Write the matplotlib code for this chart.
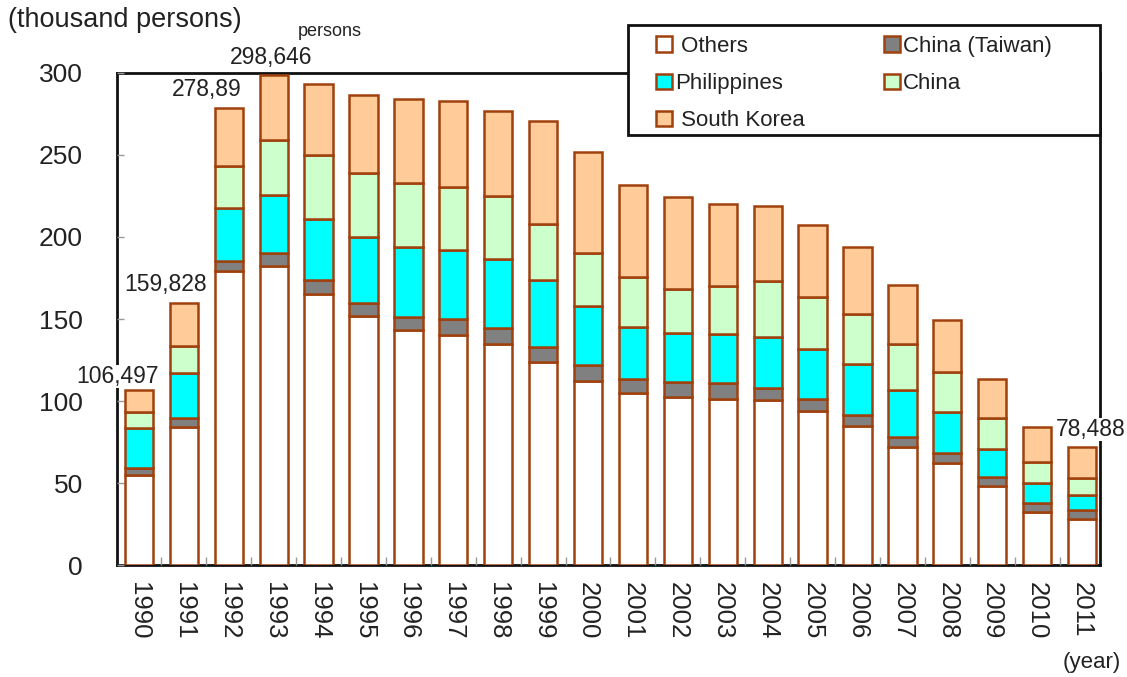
import matplotlib
matplotlib.use("Agg")
import matplotlib.pyplot as plt
from matplotlib.patches import Rectangle
import numpy as np

years = [str(y) for y in range(1990, 2012)]
others = [54.7, 84.4, 179.0, 182.6, 165.2, 152.1, 143.4, 140.3, 134.8, 123.7, 112.5,
          104.8, 102.3, 101.3, 100.7, 94.0, 85.0, 71.8, 62.0, 48.4, 32.5, 28.1]
taiwan = [4.5, 5.1, 6.5, 7.9, 8.3, 7.9, 8.1, 9.8, 10.0, 9.5, 9.5,
          8.7, 9.5, 9.5, 7.5, 7.1, 6.5, 6.5, 6.5, 5.1, 5.1, 5.5]
philippines = [24.1, 27.5, 32.1, 35.2, 37.4, 39.7, 42.1, 42.1, 41.9, 40.7, 36.2,
               31.5, 29.6, 30.0, 30.7, 30.5, 31.1, 28.5, 25.0, 17.3, 12.2, 9.1]
china = [10.2, 16.8, 25.4, 33.6, 39.3, 39.3, 39.3, 38.0, 38.0, 34.1, 32.3,
         30.9, 27.0, 29.4, 34.0, 32.1, 30.5, 27.9, 24.4, 18.7, 13.2, 10.2]
south_korea = [13.0, 26.0, 35.9, 39.3, 43.3, 47.8, 51.4, 52.5, 51.9, 62.9, 61.1,
               55.9, 55.9, 50.1, 46.3, 43.7, 40.7, 36.1, 31.6, 24.0, 21.4, 18.9]
y_ticks = [0, 50, 100, 150, 200, 250, 300]

plt.rcParams['font.family'] = ['Liberation Sans', 'DejaVu Sans']
txt = '#222222'
edge = '#A0410D'

fig = plt.figure(figsize=(11.27, 6.77), dpi=100)
ax = fig.add_axes([0.1038, 0.1654, 0.8722, 0.7268])

x = np.arange(len(years))
w = 0.63
series = [
    ("Others", others, '#FFFFFF'),
    ("China (Taiwan)", taiwan, '#808080'),
    ("Philippines", philippines, '#00FFFF'),
    ("China", china, '#CCFFCC'),
    ("South Korea", south_korea, '#FFCC99'),
]
bottom = np.zeros(len(years))
handles = {}
for name, vals, col in series:
    b = ax.bar(x, vals, w, bottom=bottom, color=col, edgecolor=edge, linewidth=1.8,
               label=name, zorder=3)
    handles[name] = b
    bottom += np.array(vals)

ax.set_xlim(-0.49, 21.4)
ax.set_ylim(0, 300)
ax.set_yticks(y_ticks)
ax.set_yticklabels([str(v) for v in y_ticks], fontsize=19, color=txt)
ax.set_xticks(x)
ax.set_xticklabels(years, rotation=270, fontsize=18.5, color=txt)
ax.set_xticks(x[:-1] + 0.5, minor=True)
ax.tick_params(axis='x', which='major', length=0, pad=12)
ax.tick_params(axis='x', which='minor', direction='in', length=6, color='#999999', width=1)
ax.tick_params(axis='y', which='major', direction='in', length=5, color='#999999', width=1, pad=24.5)
for s in ax.spines.values():
    s.set_linewidth(2)
    s.set_color('#111111')
    s.set_zorder(1)

fig.text(0.007, 0.97, "(thousand persons)", fontsize=19.5, color=txt, ha='left', va='center')
fig.text(0.969, 0.022, "(year)", fontsize=16, color=txt, ha='center', va='center')

totals = bottom
lab_fs = 16.5
ax.text(-0.47, totals[0] + 1.2, "106,497", fontsize=lab_fs, color=txt, ha='center', va='bottom',
        bbox=dict(facecolor='white', edgecolor='none', pad=0), zorder=5, clip_on=False)
ax.text(0.6, totals[1] + 4, "159,828", fontsize=lab_fs, color=txt, ha='center', va='bottom', zorder=5)
ax.text(1.5, totals[2] + 4, "278,89", fontsize=lab_fs, color=txt, ha='center', va='bottom', zorder=5)
ax.text(2.95, totals[3] + 4, "298,646", fontsize=lab_fs, color=txt, ha='center', va='bottom',
        zorder=5, clip_on=False)
ax.text(4.25, 325, "persons", fontsize=13, color=txt, ha='center', va='center', clip_on=False)
ax.text(21.2, totals[21] + 4, "78,488", fontsize=lab_fs, color=txt, ha='center', va='bottom',
        bbox=dict(facecolor='white', edgecolor='none', pad=0), zorder=5, clip_on=False)

# legend frame
frame = Rectangle((628 / 1127, 1 - 135 / 677), (1100 - 628) / 1127, 110 / 677,
                  transform=fig.transFigure, facecolor='white', edgecolor='#111111',
                  linewidth=2, zorder=4)
fig.patches.append(frame)

order = ["Others", "Philippines", "South Korea", "China (Taiwan)", "China"]
labels = [" Others", "Philippines", " South Korea", "China (Taiwan)", "China"]
leg = fig.legend([handles[n] for n in order], labels, ncol=2, loc='upper left',
                 bbox_to_anchor=(656 / 1127, 1 - 36 / 677),
                 fontsize=16, frameon=False,
                 handlelength=0.7, handleheight=0.7, handletextpad=0.15,
                 labelspacing=0.73, borderpad=0, borderaxespad=0, columnspacing=3.57)
leg.set_zorder(6)
for t in leg.get_texts():
    t.set_color(txt)

fig.savefig("out.png", dpi=100, facecolor='white')
